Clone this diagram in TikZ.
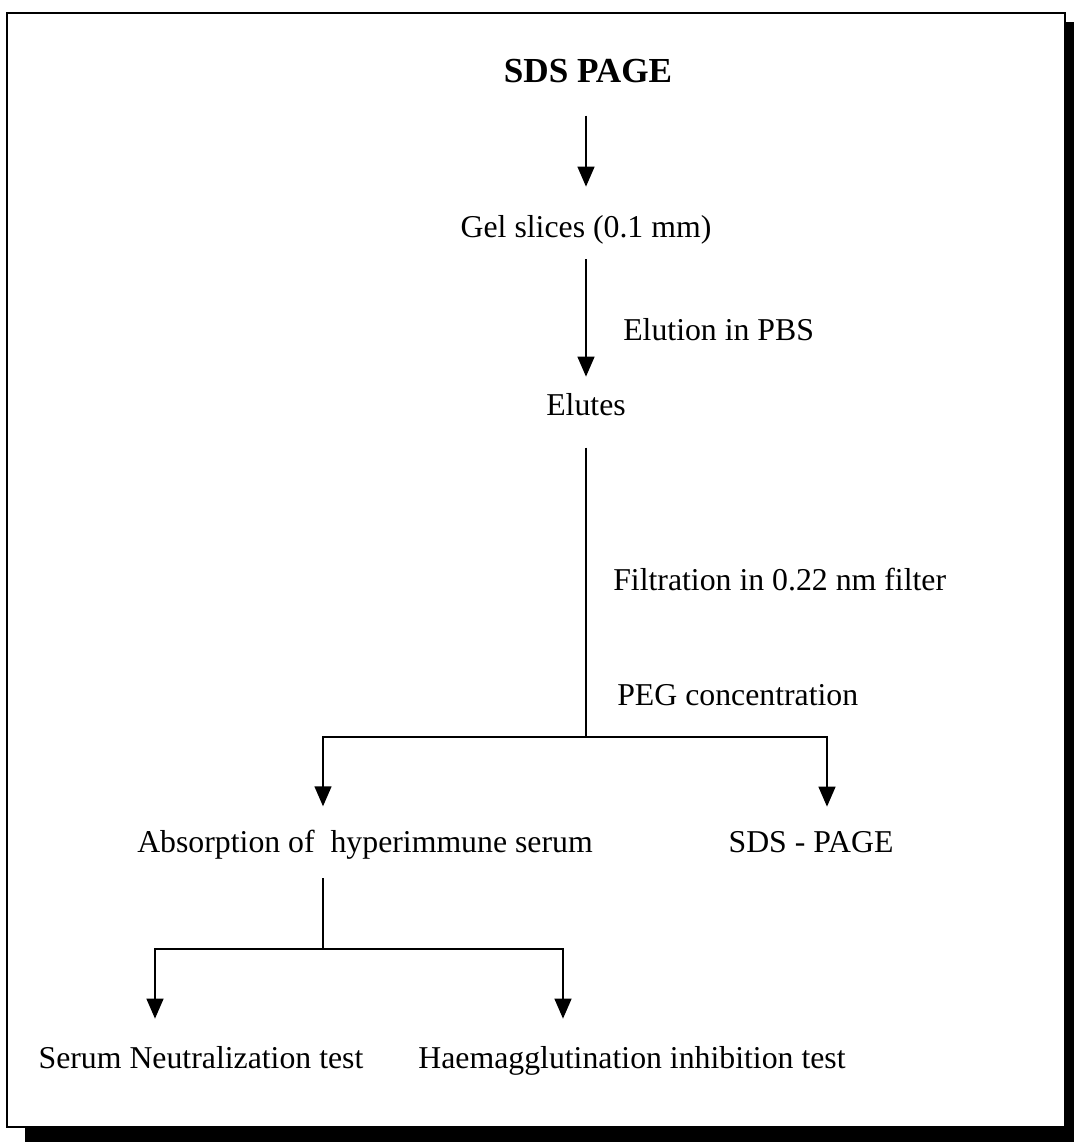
\documentclass[tikz,border=0pt]{standalone}
\usepackage{fontspec}
\setmainfont{Liberation Serif}
\usepackage{tikz}
\usetikzlibrary{arrows.meta,calc}

\begin{document}
\begin{tikzpicture}[x=0.025cm, y=-0.025cm, >={Triangle[length=0.5cm, width=0.42cm]},
  txt/.style={font=\fontsize{22.6}{27}\selectfont, inner sep=0pt, anchor=base},
  lbl/.style={txt, anchor=base west},
  ttl/.style={txt, font=\fontsize{25}{30}\selectfont\bfseries},
  flow/.style={->, line width=1.4pt},
  link/.style={line width=1.4pt}]
\useasboundingbox (0,0) rectangle (1074,1142);
% Frame with shadow
\draw[line width=1.4pt] (7,13) rectangle (1065,1127);
\fill (1065,22) rectangle (1074,1142);
\fill (25,1127) rectangle (1074,1142);
% Steps
\node[ttl] (sds)     at (588,83)   {SDS PAGE};
\node[txt] (gel)     at (586,237)  {Gel slices (0.1 mm)};
\node[lbl] (elution) at (623,340)  {Elution in PBS};
\node[txt] (elutes)  at (586,415)  {Elutes};
\node[lbl] (filt)    at (613,590)  {Filtration in 0.22 nm filter};
\node[lbl] (peg)     at (617,705)  {PEG concentration};
\node[txt] (absorb)  at (365,852)  {Absorption of\ \ hyperimmune serum};
\node[txt] (sdspage) at (811,852)  {SDS - PAGE};
\node[txt] (serum)   at (201,1068) {Serum Neutralization test};
\node[txt] (haem)    at (632,1068) {Haemagglutination inhibition test};
% Branch points
\coordinate (split1) at (586,737);
\coordinate (split2) at (323,949);
% Arrows
\draw[flow, shorten <=0.8cm, shorten >=0.7cm] (gel.north |- sds.south) -- (gel.north);
\draw[flow, shorten <=0.375cm, shorten >=0.4cm] (gel.south) -- (elutes.north);
\draw[link, shorten <=0.8cm] (elutes.south) -- (split1);
\draw[flow, shorten >=0.575cm] (split1) -| (absorb.north -| split2);
\draw[flow, shorten >=0.6cm] (split1) -| ($(sdspage.north)+(16,0)$);
\draw[link, shorten <=0.475cm] (absorb.south -| split2) -- (split2);
\draw[flow, shorten >=0.675cm] (split2) -| ($(serum.north)+(-46,0)$);
\draw[flow, shorten >=0.675cm] (split2) -| ($(haem.north)+(-69,0)$);
\end{tikzpicture}
\end{document}
